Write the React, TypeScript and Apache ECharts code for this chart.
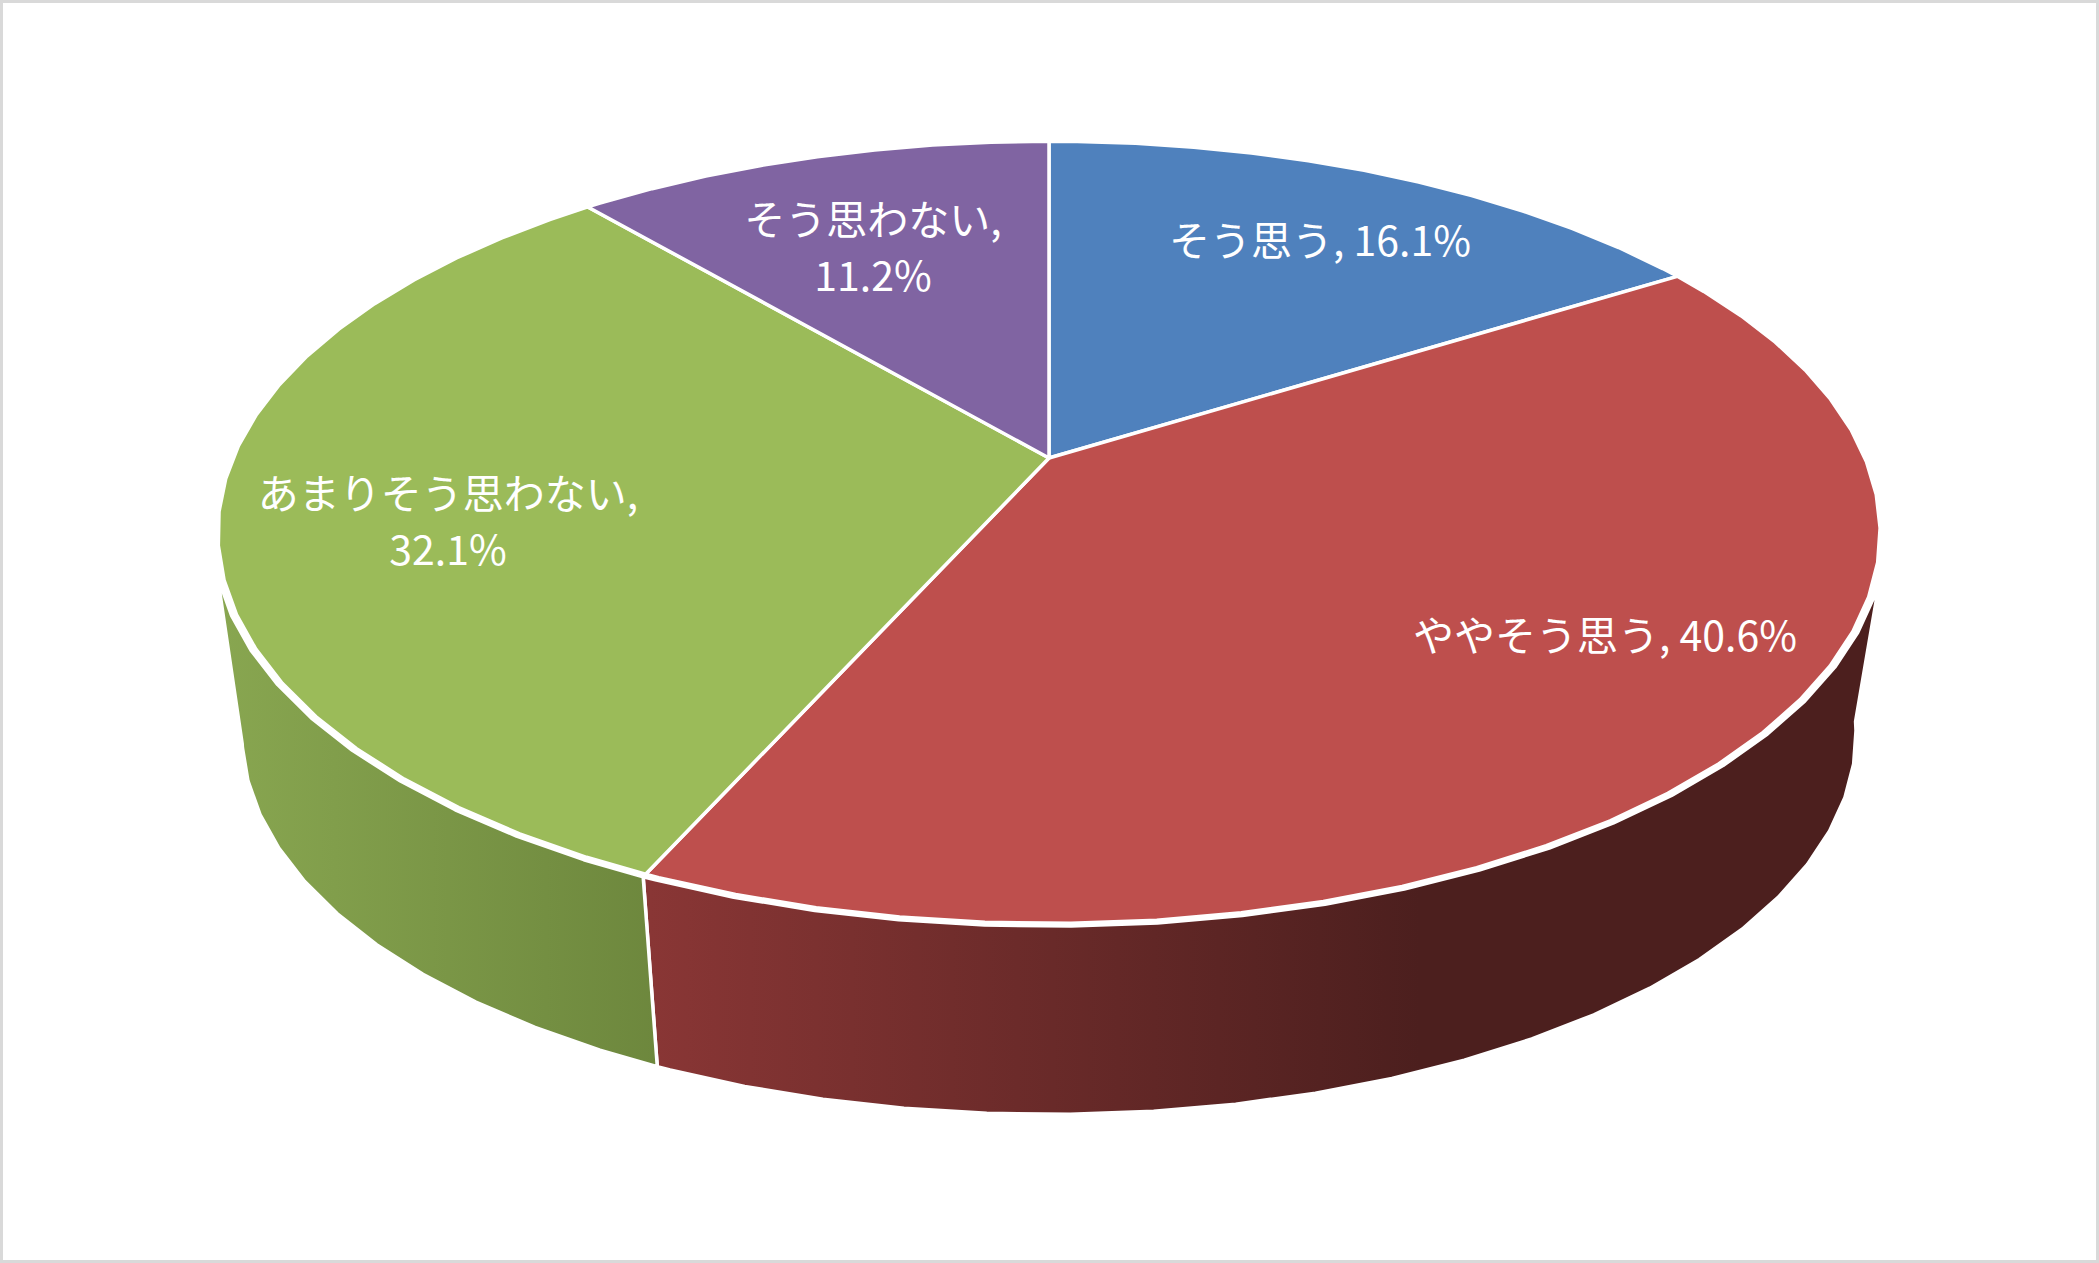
import React, { useEffect, useRef } from "react";
import * as echarts from "echarts";

const categories = ["そう思う", "ややそう思う", "あまりそう思わない", "そう思わない"];
const shares = [16.1, 40.6, 32.1, 11.2];
const labelBreaks = [false, false, true, true];

const topColors = ["#4F81BD", "#BE4F4D", "#9BBB59", "#8064A2"];
const wallStops: (string[] | null)[] = [
  null,
  ["#893635", "#4C1F1E"],
  ["#88A650", "#6D873D"],
  null,
];
const wallGradX: number[][] = [
  [0, 0],
  [650, 1420],
  [221, 660],
  [0, 0],
];
const labelLayout = [
  [1320, 238],
  [1605, 633],
  [448, 519],
  [873, 245],
];

const W = 2099;
const H = 1263;
// perspective model of the pie disc
const CX = 1049;
const CY_TOP = 458;
const CY_BOT = 662.5;
const A = 816;
const B = 377;
const K = 0.19;
const S_BOT = 0.971;
const S_WALL_TOP = 1.006;
const STEP = 4.9;
const GRID = 178.75;
const TOP_VISIBLE = [106, 254];
const BOT_VISIBLE = [99, 257.7];

const rad = (d: number) => (d * Math.PI) / 180;

function project(deg: number, f: number, cy: number): number[] {
  const s = Math.sin(rad(deg));
  const c = Math.cos(rad(deg));
  const w = 1 + K * c;
  return [CX + (f * A * s) / w, cy - (f * B * c) / w];
}

function arc(from: number, to: number, f: number, cy: number): number[][] {
  const pts = [project(from, f, cy)];
  let n = Math.ceil((from - GRID) / STEP + 1e-6);
  let d = GRID + n * STEP;
  while (d < to - 1e-6) {
    pts.push(project(d, f, cy));
    n += 1;
    d = GRID + n * STEP;
  }
  pts.push(project(to, f, cy));
  return pts;
}

const seriesData = shares.map((v, i) => [
  v,
  shares.slice(0, i).reduce((a, b) => a + b, 0),
]);

const renderWall = (params: any, api: any) => {
  const i = params.dataIndex;
  const stops = wallStops[i];
  const a = (api.value(1) / 100) * 360;
  const b = a + (api.value(0) / 100) * 360;
  if (!stops) return { type: "group", children: [] };
  const uFrom = Math.max(a, TOP_VISIBLE[0]);
  const uTo = Math.min(b, TOP_VISIBLE[1]);
  const lFrom = Math.max(a, BOT_VISIBLE[0]);
  const lTo = Math.min(b, BOT_VISIBLE[1]);
  const points = [
    ...arc(uFrom, uTo, S_WALL_TOP, CY_TOP),
    ...arc(lFrom, lTo, S_BOT, CY_BOT).reverse(),
  ];
  return {
    type: "polygon",
    shape: { points },
    style: {
      fill: new echarts.graphic.LinearGradient(
        wallGradX[i][0], 0, wallGradX[i][1], 0,
        [
          { offset: 0, color: stops[0] },
          { offset: 1, color: stops[1] },
        ],
        true
      ),
      stroke: "#FFFFFF",
      lineWidth: 3.5,
      lineJoin: "round",
    },
  };
};

const renderTop = (params: any, api: any) => {
  const i = params.dataIndex;
  const value = api.value(0);
  const a = (api.value(1) / 100) * 360;
  const b = a + (value / 100) * 360;
  const points = [[CX, CY_TOP], ...arc(a, b, 1, CY_TOP)];
  const sep = labelBreaks[i] ? ",\n" : ", ";
  return {
    type: "group",
    children: [
      {
        type: "polygon",
        shape: { points },
        style: {
          fill: topColors[i],
          stroke: "#FFFFFF",
          lineWidth: 3.5,
          lineJoin: "round",
        },
      },
      {
        type: "text",
        z2: 10,
        style: {
          x: labelLayout[i][0],
          y: labelLayout[i][1],
          text: `${categories[i]}${sep}${value.toFixed(1)}%`,
          fill: "#FFFFFF",
          fontSize: 41,
          fontWeight: 400,
          fontFamily: '"Noto Sans CJK JP", "Noto Sans", sans-serif',
          align: "center",
          verticalAlign: "middle",
          lineHeight: 56,
        },
      },
    ],
  };
};

export default function App() {
  const ref = useRef<HTMLDivElement>(null);
  useEffect(() => {
    if (!ref.current) return;
    const chart = echarts.init(ref.current, undefined, { renderer: "svg" });
    chart.setOption({
      animation: false,
      backgroundColor: "#FFFFFF",
      graphic: [
        {
          type: "rect",
          z: -1,
          shape: { x: 1.5, y: 1.5, width: W - 3, height: H - 3 },
          style: { fill: "#FFFFFF", stroke: "#D9D9D9", lineWidth: 3 },
        },
      ],
      series: [
        { type: "custom", coordinateSystem: "none", data: seriesData, renderItem: renderWall, silent: true, z: 1 },
        { type: "custom", coordinateSystem: "none", data: seriesData, renderItem: renderTop, silent: true, z: 2 },
      ],
    });
    return () => chart.dispose();
  }, []);
  return (
    <div
      ref={ref}
      style={{ position: "absolute", left: 0, top: 0, width: W, height: H }}
    />
  );
}
